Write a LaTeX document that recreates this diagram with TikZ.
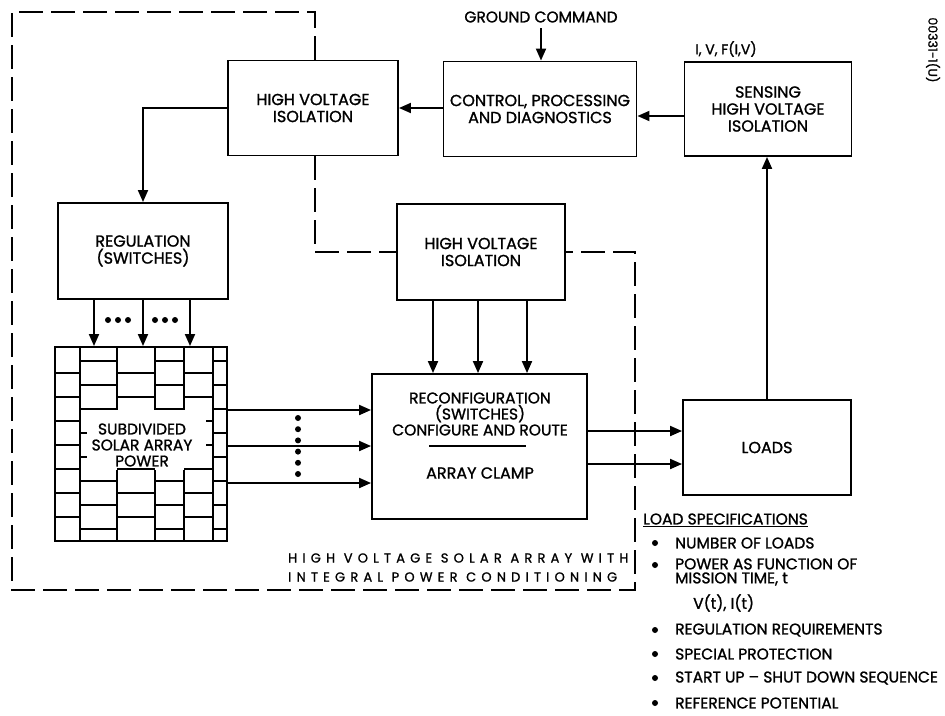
\documentclass[tikz,border=0pt]{standalone}
\usepackage{fontspec}
\setmainfont{Poppins}[FakeBold=1.2]
\usetikzlibrary{arrows.meta,calc}
\newfontfamily\spacedfont{Poppins}[LetterSpace=40,FakeBold=1.2]
\tikzset{
  box/.style={draw, line width=1.9pt, align=center, inner sep=0pt, font=\fontsize{16}{17}\selectfont},
  arr/.style={line width=1.9pt, -{Triangle[length=12pt,width=10pt]}},
  dashline/.style={line width=1.9pt, dash pattern=on 24pt off 8pt},
  brick/.style={line width=1.3pt},
  lbl/.style={inner sep=0pt, font=\fontsize{15.5}{16}\selectfont},
  spec/.style={inner sep=0pt, anchor=west, align=left, font=\fontsize{15.5}{14}\selectfont},
  dot/.style={fill=black, draw=none, circle, minimum size=6pt, inner sep=0pt},
}
\begin{document}
\begin{tikzpicture}[x=1pt,y=-1pt]
\useasboundingbox (0,0) rectangle (945,715);
\fill[white] (0,0) rectangle (945,715);

% boxes
\node[box, minimum width=170pt, minimum height=95pt] (hvtop) at (313,108) {HIGH VOLTAGE\\ISOLATION};
\node[box, minimum width=193pt, minimum height=95pt] (ctrl) at (540,109) {CONTROL, PROCESSING\\AND DIAGNOSTICS};
\node[box, minimum width=167pt, minimum height=94pt] (sense) at (768,109) {SENSING\\HIGH VOLTAGE\\ISOLATION};
\node[box, minimum width=170pt, minimum height=96pt] (reg) at (143,251) {REGULATION\\(SWITCHES)};
\node[box, minimum width=168pt, minimum height=96pt] (hvmid) at (481,252) {HIGH VOLTAGE\\ISOLATION};
\node[box, minimum width=215pt, minimum height=145pt] (reconf) at (479.5,446.5) {};
\node[box, minimum width=168pt, minimum height=95pt] (loads) at (767,447.5) {LOADS};

% reconfiguration texts
\node[lbl, font=\fontsize{15.5}{16}\selectfont, align=center] (rtxt) at (480,414) {RECONFIGURATION\\(SWITCHES)\\CONFIGURE AND ROUTE};
\coordinate (rl1) at (429,446);
\coordinate (rl2) at (526,446);
\draw[line width=1.5pt] (rl1) -- (rl2);
\node[lbl, font=\fontsize{16}{16}\selectfont] (clamp) at (480,473) {ARRAY CLAMP};

% solar array with brick pattern
\node[box, minimum width=172pt, minimum height=194pt] (array) at (141,444) {};
\begin{scope}[brick]
  \draw (80,347) -- (80,541);
  \draw (213,347) -- (213,541);
  \foreach \yy in {373,397,421,445,469,493,517} \draw (55,\yy) -- (80,\yy);
  \foreach \yy in {361,385,409,433,457,481,505,529} \draw (213,\yy) -- (227,\yy);
  \foreach \xx in {117,155,184} {\draw (\xx,347) -- (\xx,410); \draw (\xx,470) -- (\xx,541);}
  \foreach \yy in {361,385,409,481,505,529} \draw (80,\yy) -- (117,\yy);
  \foreach \yy in {373,397,469,493,517} \draw (117,\yy) -- (155,\yy);
  \foreach \yy in {361,385,409,481,505,529} \draw (155,\yy) -- (184,\yy);
  \foreach \yy in {373,397,469,493,517} \draw (184,\yy) -- (213,\yy);
  \foreach \yy in {433,457} \draw (80,\yy) -- (87,\yy);
  \foreach \yy in {421,445} \draw (206,\yy) -- (213,\yy);
\end{scope}
\node[lbl, font=\fontsize{15.5}{16}\selectfont, align=center, fill=white, inner sep=1pt] (atxt) at (142,445) {SUBDIVIDED\\SOLAR ARRAY\\POWER};

% top labels
\node[lbl] (gtxt) at (541,17) {GROUND COMMAND};
\coordinate (gc) at (541,28);
\node[lbl, font=\fontsize{14}{15}\selectfont] (ivf) at (726,49) {I, V, F(I,V)};
\node[lbl, font=\fontsize{12.5}{13}\selectfont, rotate=-90] (code) at (933,50) {00331-1(U)};

% connectors
\draw[arr] (gc) -- (gc |- ctrl.north);
\draw[arr] (ctrl.west |- hvtop.east) -- (hvtop.east);
\draw[arr] ([yshift=-7pt]sense.west) -- ([yshift=-7pt]ctrl.east);
\draw[arr] (hvtop.west) -| (reg.north);
\foreach \xx [count=\i] in {94,143,190} {
  \coordinate (ra\i) at (\xx,0);
  \draw[arr] (reg.south -| ra\i) -- (array.north -| ra\i);
}
\foreach \xx [count=\i] in {433,478,527} {
  \coordinate (hm\i) at (\xx,0);
  \draw[arr] (hvmid.south -| hm\i) -- (reconf.north -| hm\i);
}
\foreach \yy [count=\i] in {410,446,483} {
  \coordinate (ya\i) at (0,\yy);
  \draw[arr] (array.east |- ya\i) -- (reconf.west |- ya\i);
}
\foreach \yy [count=\i] in {431,464} {
  \coordinate (yl\i) at (0,\yy);
  \draw[arr] (reconf.east |- yl\i) -- (loads.west |- yl\i);
}
\draw[arr] (loads.north) -- (sense.south -| loads.north);

% dots
\foreach \xx in {108,118,128,155,165,175} \node[dot] at (\xx,320) {};
\foreach \yy in {418,429.2,440.4,451.6,462.8,474} \node[dot] at (298,\yy) {};

% dashed boundary
\coordinate (dtl) at (12,12);
\coordinate (dbl) at (12,590);
\coordinate (dbr) at (635,590);
\coordinate (dr) at (635,252);
\coordinate (dm) at (315,252);
\draw[dashline] (hvtop.north -| dm) |- (dtl) -- (dbl) -- (dbr) -- (dr) -- (hvmid.east |- dr);
\draw[dashline] (hvtop.south -| dm) -- (dm) -- (hvmid.west |- dm);

% bottom label
\node[inner sep=0pt, anchor=west, font=\fontsize{13}{14}\spacedfont] (lab1) at (288,558) {HIGH VOLTAGE SOLAR ARRAY WITH};
\node[inner sep=0pt, anchor=west, font=\fontsize{13}{14}\spacedfont] (lab2) at (288,577) {INTEGRAL POWER CONDITIONING};

% load specifications
\node[spec] (ls) at (643,520) {\underline{LOAD SPECIFICATIONS}};
\foreach \yy in {543,565,630,654,678,703} \node[dot] at (655,\yy) {};
\node[spec] (s1) at (675,543) {NUMBER OF LOADS};
\node[spec] (s2) at (675,572) {POWER AS FUNCTION OF\\MISSION TIME, t};
\node[spec] (s4) at (693,603) {V(t), I(t)};
\node[spec] (s5) at (675,630) {REGULATION REQUIREMENTS};
\node[spec] (s6) at (675,654) {SPECIAL PROTECTION};
\node[spec] (s7) at (675,678) {START UP -- SHUT DOWN SEQUENCE};
\node[spec] (s8) at (675,703) {REFERENCE POTENTIAL};
\end{tikzpicture}
\end{document}
